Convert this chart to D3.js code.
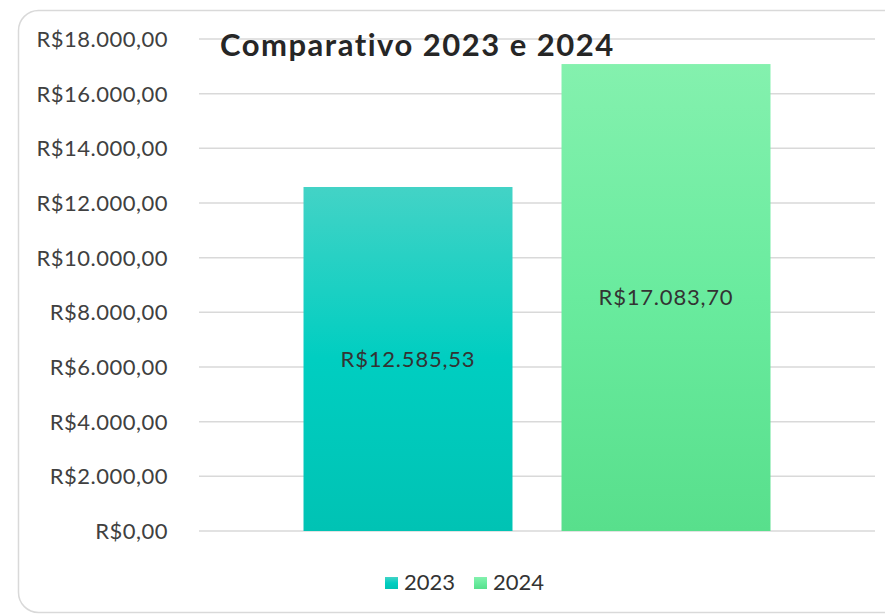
<!DOCTYPE html>
<html>
<head>
<meta charset="utf-8">
<script src="https://cdn.jsdelivr.net/npm/d3@7"></script>
<style>
  body { margin: 0; background: #fff; }
  svg { display: block; }
  .tick-label { font-family: Lato, "DejaVu Sans", sans-serif; font-size: 22px; letter-spacing: 0.5px; fill: #404040; }
  .bar-label { font-family: Lato, "DejaVu Sans", sans-serif; font-size: 22px; letter-spacing: 0.8px; fill: #333; }
  .title { font-family: Lato, "DejaVu Sans", sans-serif; font-size: 31px; font-weight: bold; letter-spacing: 1.5px; fill: #262626; }
  .legend-text { font-family: Lato, "DejaVu Sans", sans-serif; font-size: 22px; fill: #333; }
</style>
</head>
<body>
<svg id="chart" width="885" height="615"></svg>
<script>
'use strict';

// Chart data.
const categories = ['Comparativo'];
const series = ['2023', '2024'];
const values = [12585.53, 17083.70];
const yTickValues = [0, 2000, 4000, 6000, 8000, 10000, 12000, 14000, 16000, 18000];
const title = 'Comparativo 2023 e 2024';

// Gradient stops per series: top, middle, bottom.
const gradients = [
  ['#43d3c6', '#00cec1', '#00c3b4'],
  ['#84f1ae', '#69eb9e', '#58df8c']
];

const brl = d3.formatLocale({
  decimal: ',', thousands: '.', grouping: [3], currency: ['R$', '']
}).format('$,.2f');

const margin = { top: 39, right: 10, bottom: 84, left: 199 };

const svg = d3.select('#chart');

// Frame with rounded corners (cropped on the right like the source).
svg.append('rect')
  .attr('x', 18.5).attr('y', 10.5)
  .attr('width', 900).attr('height', 602)
  .attr('rx', 20).attr('ry', 20)
  .attr('fill', '#fff')
  .attr('stroke', '#d9d9d9')
  .attr('stroke-width', 1.5);

const defs = svg.append('defs');
gradients.forEach((stops, i) => {
  const g = defs.append('linearGradient')
    .attr('id', `grad${i}`)
    .attr('x1', 0).attr('y1', 0).attr('x2', 0).attr('y2', 1);
  stops.forEach((c, j) => {
    g.append('stop').attr('offset', `${j * 50}%`).attr('stop-color', c);
  });
});

const y = d3.scaleLinear()
  .domain([0, 18000])
  .range([531, margin.top]);

const x0 = d3.scaleBand()
  .domain(categories)
  .range([margin.left, 875])
  .paddingOuter(0.2238)
  .paddingInner(0);

const x1 = d3.scaleBand()
  .domain(series)
  .range([0, x0.bandwidth()])
  .paddingInner(0.19)
  .paddingOuter(0);

// Gridlines
svg.append('g')
  .selectAll('line')
  .data(yTickValues)
  .join('line')
  .attr('x1', margin.left)
  .attr('x2', 875)
  .attr('y1', d => y(d))
  .attr('y2', d => y(d))
  .attr('stroke', '#d9d9d9')
  .attr('stroke-width', 1.5);

// Y axis labels
svg.append('g')
  .selectAll('text')
  .data(yTickValues)
  .join('text')
  .attr('class', 'tick-label')
  .attr('x', 168)
  .attr('y', d => y(d))
  .attr('dy', '0.36em')
  .attr('text-anchor', 'end')
  .text(d => brl(d));

// Bars
const bars = svg.append('g')
  .selectAll('g')
  .data(series.map((s, i) => ({ series: s, value: values[i], i })))
  .join('g');

bars.append('rect')
  .attr('x', d => x0(categories[0]) + x1(d.series))
  .attr('y', d => y(d.value))
  .attr('width', x1.bandwidth())
  .attr('height', d => y(0) - y(d.value))
  .attr('fill', d => `url(#grad${d.i})`);

bars.append('text')
  .attr('class', 'bar-label')
  .attr('x', d => x0(categories[0]) + x1(d.series) + x1.bandwidth() / 2)
  .attr('y', d => (y(d.value) + y(0)) / 2)
  .attr('dy', '0.36em')
  .attr('text-anchor', 'middle')
  .text(d => brl(d.value));

// Title drawn over the gridlines
svg.append('text')
  .attr('class', 'title')
  .attr('x', 220)
  .attr('y', 56)
  .text(title);

// Legend
const legendX = [385, 474];
const legend = svg.append('g')
  .selectAll('g')
  .data(series)
  .join('g')
  .attr('transform', (d, i) => `translate(${legendX[i]},577)`);

legend.append('rect')
  .attr('width', 13)
  .attr('height', 12)
  .attr('fill', (d, i) => `url(#grad${i})`);

legend.append('text')
  .attr('class', 'legend-text')
  .attr('x', 19)
  .attr('y', 13)
  .text(d => d);
</script>
</body>
</html>
